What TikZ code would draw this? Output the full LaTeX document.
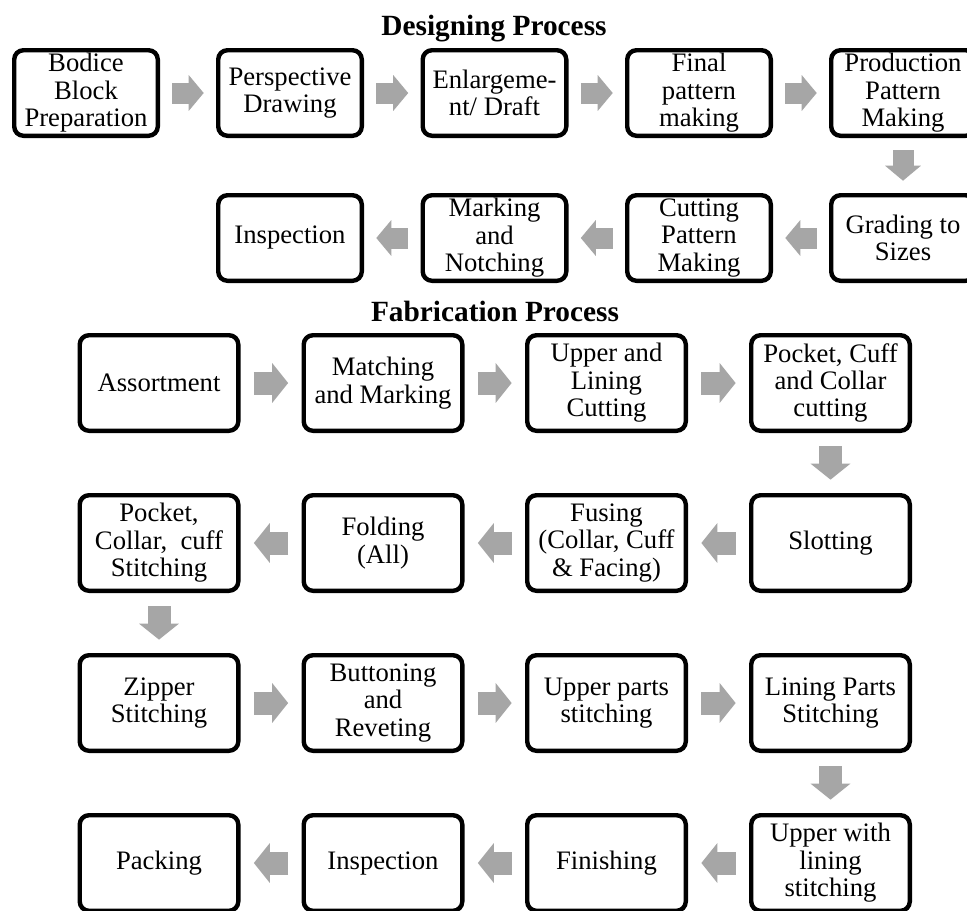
\documentclass[tikz,border=0pt]{standalone}
\usepackage{fontspec}
\setmainfont{Liberation Serif}
\usetikzlibrary{calc,arrows.meta}
\definecolor{arrowgray}{RGB}{166,166,166}
\definecolor{boxline}{RGB}{0,0,0}

\tikzset{
  stepbox/.style={draw=boxline, line width=3.3pt, rounded corners=7pt, fill=white,
    align=center, inner sep=0pt, font=\fontsize{20}{20.6}\selectfont},
  designbox/.style={stepbox, minimum width=107.7pt, minimum height=64.2pt},
  fabbox/.style={stepbox, minimum width=118.95pt, minimum height=71.7pt},
  titletext/.style={anchor=base, font=\fontsize{22}{24}\selectfont\bfseries},
  designarrow/.style={draw=arrowgray, line width=15.75pt,
    -{Triangle[width=26.25pt 0 0,length=11.25pt 0 0]}, shorten <=9.2pt, shorten >=9.2pt},
  fabarrow/.style={draw=arrowgray, line width=17.25pt,
    -{Triangle[width=29.25pt 0 0,length=12pt 0 0]}, shorten <=10pt, shorten >=10pt}
}

\begin{document}
\begin{tikzpicture}[x=0.75pt, y=-0.75pt]

% page frame
\useasboundingbox (0,0) rectangle (967,910);
\clip (0,0) rectangle (967,910);
\fill[white] (0,0) rectangle (967,910);

% 1. DESIGNING PROCESS
\node[titletext] (designtitle) at (494,35) {Designing Process};

% Row 1 (left to right)
\node[designbox] (bodice) at (86,93) {Bodice\\Block\\Preparation};
\node[designbox] (perspective) at (290,93) {Perspective\\Drawing};
\node[designbox] (enlarge) at (494.5,93) {Enlargeme-\\nt/ Draft};
\node[designbox] (finalpat) at (699,93) {Final\\pattern\\making};
\node[designbox] (prodpat) at (903,93) {Production\\Pattern\\Making};

% Row 2 (right to left)
\node[designbox] (grading) at (903,238) {Grading to\\Sizes};
\node[designbox] (cutpat) at (699,238) {Cutting\\Pattern\\Making};
\node[designbox] (marking) at (494.5,238) {Marking\\and\\Notching};
\node[designbox] (inspectA) at (290,238) {Inspection};

% Block arrows
\draw[designarrow] (bodice) -- (perspective);
\draw[designarrow] (perspective) -- (enlarge);
\draw[designarrow] (enlarge) -- (finalpat);
\draw[designarrow] (finalpat) -- (prodpat);
\draw[designarrow] (prodpat) -- (grading);
\draw[designarrow] (grading) -- (cutpat);
\draw[designarrow] (cutpat) -- (marking);
\draw[designarrow] (marking) -- (inspectA);

% 2. FABRICATION PROCESS
\node[titletext] (fabtitle) at (495,321) {Fabrication Process};

% Row 1
\node[fabbox] (assort) at (159,383) {Assortment};
\node[fabbox] (matching) at (383,383) {Matching\\and Marking};
\node[fabbox] (uppercut) at (606.5,383) {Upper and\\Lining\\Cutting};
\node[fabbox] (pocketcut) at (830.5,383) {Pocket, Cuff\\and Collar\\cutting};

% Row 2
\node[fabbox] (slotting) at (830.5,543) {Slotting};
\node[fabbox] (fusing) at (606.5,543) {Fusing\\(Collar, Cuff\\\& Facing)};
\node[fabbox] (folding) at (383,543) {Folding\\(All)};
\node[fabbox] (pocketstitch) at (159,543) {Pocket,\\Collar,\ \ cuff\\Stitching};

% Row 3
\node[fabbox] (zipper) at (159,703) {Zipper\\Stitching};
\node[fabbox] (button) at (383,703) {Buttoning\\and\\Reveting};
\node[fabbox] (upperstitch) at (606.5,703) {Upper parts\\stitching};
\node[fabbox] (liningstitch) at (830.5,703) {Lining Parts\\Stitching};

% Row 4
\node[fabbox] (upperlining) at (830.5,863) {Upper with\\lining\\stitching};
\node[fabbox] (finishing) at (606.5,863) {Finishing};
\node[fabbox] (inspectB) at (383,863) {Inspection};
\node[fabbox] (packing) at (159,863) {Packing};

% Block arrows
\draw[fabarrow] (assort) -- (matching);
\draw[fabarrow] (matching) -- (uppercut);
\draw[fabarrow] (uppercut) -- (pocketcut);
\draw[fabarrow] (pocketcut) -- (slotting);
\draw[fabarrow] (slotting) -- (fusing);
\draw[fabarrow] (fusing) -- (folding);
\draw[fabarrow] (folding) -- (pocketstitch);
\draw[fabarrow] (pocketstitch) -- (zipper);
\draw[fabarrow] (zipper) -- (button);
\draw[fabarrow] (button) -- (upperstitch);
\draw[fabarrow] (upperstitch) -- (liningstitch);
\draw[fabarrow] (liningstitch) -- (upperlining);
\draw[fabarrow] (upperlining) -- (finishing);
\draw[fabarrow] (finishing) -- (inspectB);
\draw[fabarrow] (inspectB) -- (packing);

\end{tikzpicture}
\end{document}
